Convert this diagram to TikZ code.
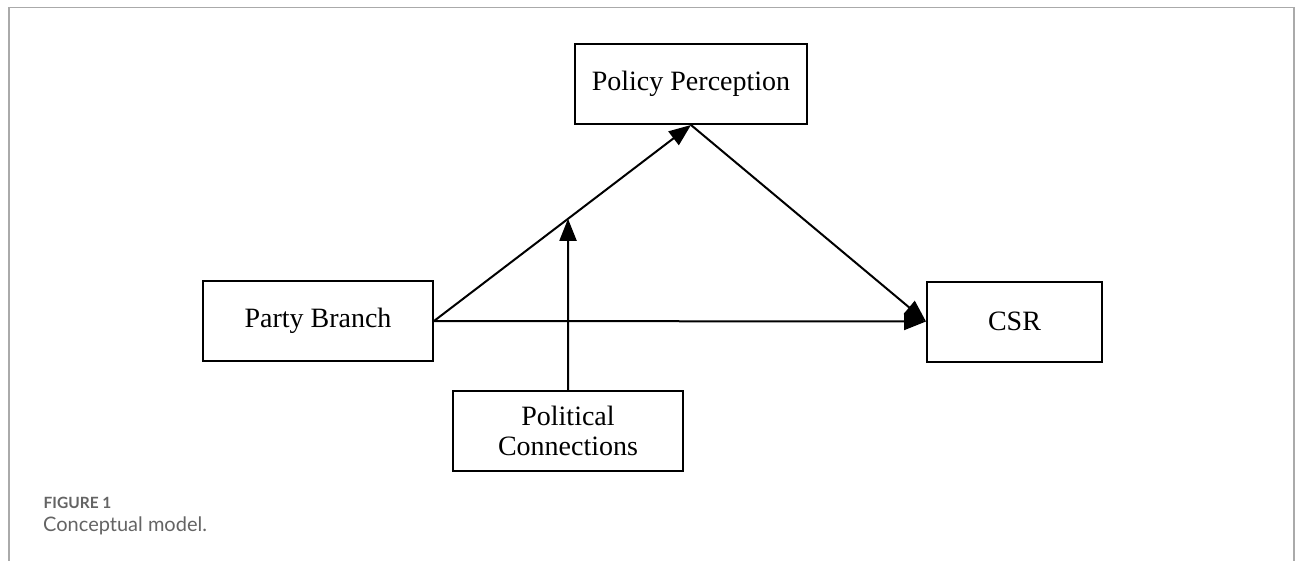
\documentclass[tikz,border=0pt]{standalone}
\usepackage{fontspec}
\setmainfont{Liberation Serif}
\newfontfamily\capfont{Lato}
\usetikzlibrary{arrows.meta}
\definecolor{framegray}{RGB}{170,170,170}
\definecolor{capgray}{RGB}{100,100,100}
\tikzset{
  varbox/.style={draw=black, line width=2pt, minimum width=230pt, minimum height=80pt, inner sep=0pt, align=center, font=\fontsize{28}{32}\selectfont},
  conn/.style={draw=black, line width=2pt, -{Triangle[length=22pt,width=17pt]}},
}
\begin{document}
\begin{tikzpicture}[x=1pt,y=-1pt]
\useasboundingbox (0,0) rectangle (1295,561);
\draw[framegray, line width=1.6pt] (9,561) -- (9,7.5) -- (1294,7.5) -- (1294,561);
\node[varbox, minimum width=232pt] (PP) at (691,84) {Policy Perception};
\node[varbox] (PB) at (318,321) {Party Branch};
\node[varbox, minimum width=175pt] (CSR) at (1014.5,321.5) {CSR};
\node[varbox] (PC) at (568,431) {Political\\[-2pt]Connections};
\coordinate (M) at (intersection of PB.east--PP.south and PC.north--PP.south-|PC.north);
\draw[conn] (PB.east) -- (PP.south);
\draw[conn] (PP.south) -- (CSR.west);
\draw[conn] (PB.east) -- (CSR.west);
\draw[conn] (PC.north) -- (M);
\node[anchor=base west, inner sep=0pt, text=capgray, font=\capfont\bfseries\fontsize{15.5}{18}\selectfont] (fig) at (43.5,508) {FIGURE 1};
\node[anchor=base west, inner sep=0pt, text=capgray, font=\capfont\fontsize{20}{24}\selectfont] (cap) at (43,531) {Conceptual model.};
\end{tikzpicture}
\end{document}
